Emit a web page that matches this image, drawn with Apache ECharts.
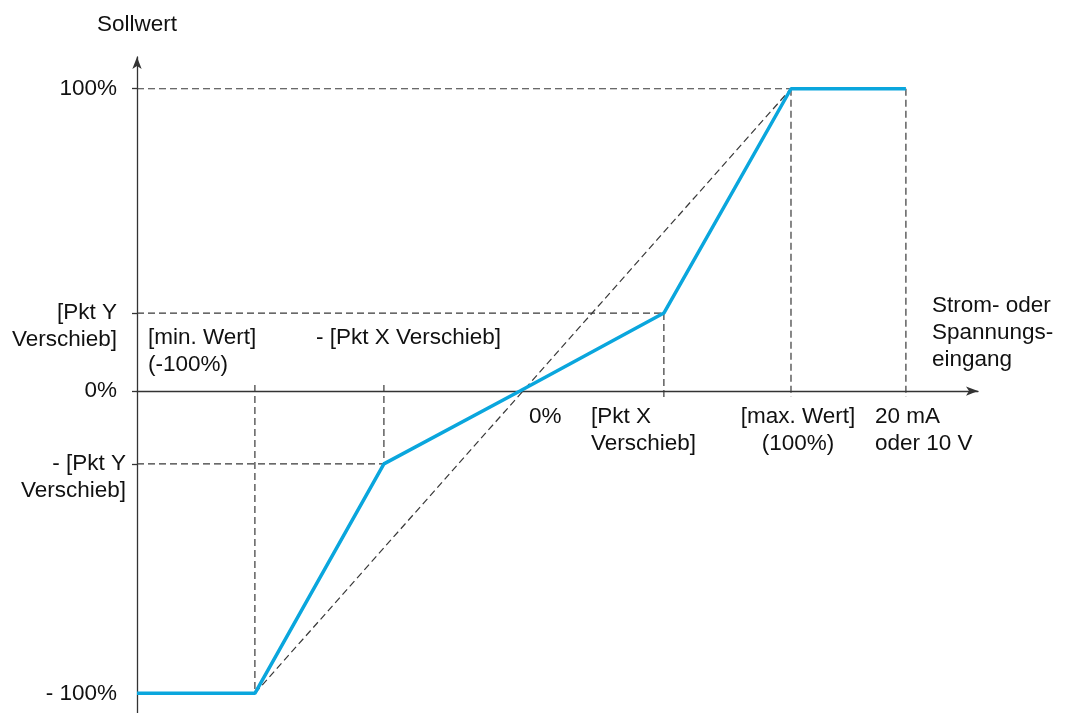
<!DOCTYPE html>
<html lang="de">
<head>
    <meta charset="UTF-8"/>
    <script src="https://cdn.jsdelivr.net/npm/echarts@6/dist/echarts.min.js"></script>
    <title>Sollwert Kennlinie</title>
    <style>
        html, body{
            margin: 0;
            padding: 0;
            background: #fff;
        }
        #chart{
            width: 1067px;
            height: 713px;
        }
    </style>
</head>
<body>
<div id="chart"></div>
<script type="text/javascript">
    // Kennlinie (x = Eingang in %, y = Sollwert in %)
    var curveX = [-141.3, -97.8, -50.2, 0, 53.1, 100, 142.4];
    var curveY = [-100, -100, -24.1, 0, 25.8, 100, 100];

    // Punkte auf der x-Achse und ihre Beschriftung
    var xMarks = [-97.8, -50.2, 0, 53.1, 100, 142.4];
    var xTexts = ['[min. Wert]\n(-100%)', '- [Pkt X Verschieb]', '0%', '[Pkt X\nVerschieb]', '[max. Wert]\n(100%)', '20 mA\noder 10 V'];

    // Punkte auf der y-Achse und ihre Beschriftung
    var yMarks = [100, 25.8, 0, -24.1, -100];
    var yTexts = ['100%', '[Pkt Y\nVerschieb]', '0%', '- [Pkt Y\nVerschieb]', '- 100%'];

    var xAxisName = 'Strom- oder\nSpannungs-\neingang';
    var yAxisName = 'Sollwert';

    var X_MIN = -141.3, X_MAX = 169, Y_MIN = -106.5, Y_MAX = 110.5;
    var tickExt = 2; // Hilfslinien ragen etwas ueber die x-Achse hinaus

    var font = 'Liberation Sans, Arial, sans-serif';
    var fontSize = 22.5;
    var textColor = '#111';
    var axisColor = '#333';
    var dashStyle = {color: '#383838', width: 1.2, type: [7, 4]};

    // Offsets der Beschriftungen (Pixel), gleiche Reihenfolge wie xTexts / yTexts
    var xLabelStyle = [
        {align: 'left', offset: [-107, -39.5]},
        {align: 'left', offset: [-68, -53]},
        {align: 'left', offset: [9, 26]},
        {align: 'left', offset: [-73, 39.5]},
        {align: 'center', offset: [7, 39.5]},
        {align: 'left', offset: [-31, 39.5]}
    ];
    var yLabelStyle = [
        {offset: [-20, 0]},
        {offset: [-20, 13.5]},
        {offset: [-20, 0]},
        {offset: [-11, 13.5]},
        {offset: [-20, 0]}
    ];

    function dashed(points) {
        return {
            type: 'line',
            data: points,
            symbol: 'none',
            silent: true,
            clip: false,
            lineStyle: dashStyle,
            z: 2
        };
    }

    var guideSeries = [
        // waagrechte Hilfslinien
        dashed([[X_MIN, yMarks[0]], [xMarks[4], yMarks[0]]]),
        dashed([[X_MIN, yMarks[1]], [xMarks[3], yMarks[1]]]),
        dashed([[X_MIN, yMarks[3]], [xMarks[1], yMarks[3]]]),
        // senkrechte Hilfslinien
        dashed([[xMarks[0], tickExt], [xMarks[0], yMarks[4]]]),
        dashed([[xMarks[1], tickExt], [xMarks[1], yMarks[3]]]),
        dashed([[xMarks[3], yMarks[1]], [xMarks[3], -tickExt]]),
        dashed([[xMarks[4], yMarks[0]], [xMarks[4], -tickExt]]),
        dashed([[xMarks[5], yMarks[0]], [xMarks[5], -tickExt]]),
        // lineare Kennlinie zum Vergleich
        dashed([[xMarks[0], yMarks[4]], [xMarks[4], yMarks[0]]])
    ];

    var curveData = [];
    for (var i = 0; i < curveX.length; i++) {
        curveData.push([curveX[i], curveY[i]]);
    }

    var labelData = [];
    for (var j = 0; j < xMarks.length; j++) {
        labelData.push({
            value: [xMarks[j], 0],
            label: {
                formatter: xTexts[j],
                align: xLabelStyle[j].align,
                verticalAlign: 'middle',
                offset: xLabelStyle[j].offset
            }
        });
    }
    for (var k = 0; k < yMarks.length; k++) {
        labelData.push({
            value: [X_MIN, yMarks[k]],
            label: {
                formatter: yTexts[k],
                align: 'right',
                verticalAlign: 'middle',
                offset: yLabelStyle[k].offset
            }
        });
    }
    labelData.push({
        value: [xMarks[5], 0],
        label: {
            formatter: xAxisName,
            align: 'left',
            verticalAlign: 'middle',
            offset: [26, -58]
        }
    });

    var myChart = echarts.init(document.getElementById('chart'), null, {renderer: 'canvas'});
    var option = {
        backgroundColor: '#fff',
        animation: false,
        grid: {left: 137, top: 57, right: 1067 - 978, bottom: 0},
        xAxis: {
            type: 'value',
            min: X_MIN,
            max: X_MAX,
            axisLine: {
                onZero: true,
                symbol: ['none', 'arrow'],
                symbolSize: [7, 12],
                lineStyle: {color: axisColor, width: 1.3}
            },
            axisTick: {show: false},
            axisLabel: {show: false},
            splitLine: {show: false}
        },
        yAxis: {
            type: 'value',
            min: Y_MIN,
            max: Y_MAX,
            name: yAxisName,
            nameLocation: 'end',
            nameGap: 21,
            nameTextStyle: {color: textColor, fontSize: fontSize, fontFamily: font},
            axisLine: {
                show: true,
                onZero: false,
                symbol: ['none', 'arrow'],
                symbolSize: [7, 12],
                lineStyle: {color: axisColor, width: 1.3}
            },
            axisTick: {
                show: true,
                length: 5,
                customValues: [yMarks[0], yMarks[1], yMarks[2], yMarks[3]],
                lineStyle: {color: axisColor, width: 1.3}
            },
            axisLabel: {show: false},
            splitLine: {show: false}
        },
        series: guideSeries.concat([
            {
                type: 'line',
                data: curveData,
                symbol: 'none',
                silent: true,
                lineStyle: {color: '#0aa6dd', width: 3.5},
                z: 5
            },
            {
                type: 'scatter',
                data: labelData,
                symbolSize: 0,
                silent: true,
                itemStyle: {color: textColor, opacity: 1},
                label: {
                    show: true,
                    position: [0, 0],
                    color: textColor,
                    opacity: 1,
                    textBorderWidth: 0,
                    textBorderColor: 'transparent',
                    fontSize: fontSize,
                    fontFamily: font,
                    lineHeight: 27
                },
                z: 10
            }
        ])
    };
    myChart.setOption(option);
</script>
</body>
</html>
